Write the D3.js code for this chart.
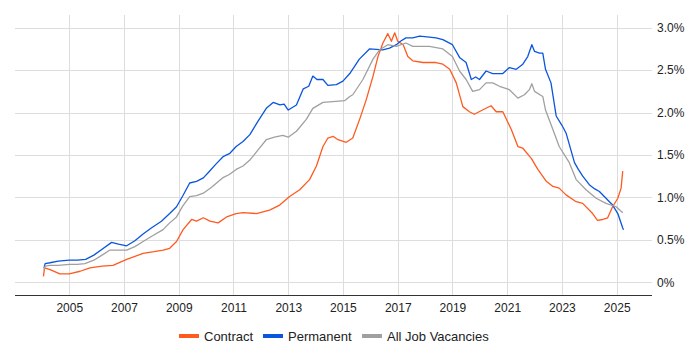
<!DOCTYPE html>
<html>
<head>
<meta charset="utf-8">
<script src="https://cdn.jsdelivr.net/npm/d3@7"></script>
<style>
	body { margin: 0; background: #fff; }
	text { font-family: Arial, "Liberation Sans", sans-serif; }
</style>
</head>
<body>
<div id="chart"></div>
<script>
///////////////////////////////////////////////////////////////////////////
/////////////////////////////// The data //////////////////////////////////
///////////////////////////////////////////////////////////////////////////

	//[decimal year, % of vacancies]
	var contract = [[2004.06,0.07],[2004.1,0.17],[2004.3,0.15],[2004.66,0.10],[2005.0,0.10],[2005.4,0.13],[2005.76,0.17],
		[2006.2,0.19],[2006.6,0.20],[2007.1,0.27],[2007.7,0.34],[2008.1,0.36],[2008.43,0.38],[2008.67,0.40],[2008.92,0.48],
		[2009.16,0.62],[2009.47,0.74],[2009.65,0.72],[2009.9,0.76],[2010.14,0.72],[2010.44,0.70],[2010.75,0.77],[2011.1,0.81],
		[2011.35,0.82],[2011.84,0.81],[2012.32,0.85],[2012.69,0.91],[2013.05,1.01],[2013.42,1.09],[2013.78,1.21],[2014.03,1.37],
		[2014.27,1.60],[2014.45,1.70],[2014.64,1.72],[2014.82,1.68],[2015.12,1.65],[2015.36,1.70],[2015.61,1.92],[2015.85,2.15],
		[2016.1,2.43],[2016.28,2.66],[2016.46,2.82],[2016.64,2.93],[2016.77,2.84],[2016.89,2.94],[2017.0,2.84],[2017.2,2.80],
		[2017.37,2.66],[2017.55,2.61],[2017.92,2.59],[2018.4,2.59],[2018.65,2.57],[2018.9,2.51],[2019.14,2.35],[2019.38,2.07],
		[2019.62,2.01],[2019.8,1.98],[2020.1,2.03],[2020.41,2.08],[2020.6,2.01],[2020.84,2.01],[2021.15,1.80],[2021.39,1.60],
		[2021.57,1.58],[2021.88,1.46],[2022.12,1.33],[2022.43,1.19],[2022.67,1.13],[2022.9,1.11],[2023.15,1.03],[2023.52,0.95],
		[2023.76,0.93],[2024.12,0.81],[2024.3,0.73],[2024.49,0.74],[2024.67,0.76],[2024.85,0.89],[2025.04,0.99],[2025.16,1.11],
		[2025.22,1.31]];

	var permanent = [[2004.08,0.17],[2004.12,0.22],[2004.3,0.23],[2004.6,0.25],[2005.0,0.26],[2005.3,0.26],[2005.6,0.27],
		[2005.9,0.32],[2006.2,0.39],[2006.55,0.47],[2006.8,0.45],[2007.1,0.43],[2007.4,0.49],[2007.7,0.57],[2008.0,0.64],
		[2008.37,0.72],[2008.67,0.81],[2008.92,0.89],[2009.15,1.02],[2009.4,1.17],[2009.65,1.19],[2009.9,1.23],[2010.1,1.30],
		[2010.35,1.39],[2010.62,1.48],[2010.87,1.52],[2011.1,1.60],[2011.35,1.66],[2011.6,1.74],[2011.9,1.90],[2012.2,2.05],
		[2012.45,2.12],[2012.7,2.09],[2012.85,2.10],[2013.0,2.03],[2013.3,2.09],[2013.55,2.28],[2013.75,2.31],[2013.9,2.43],
		[2014.05,2.39],[2014.27,2.39],[2014.45,2.32],[2014.76,2.33],[2015.0,2.37],[2015.25,2.46],[2015.6,2.63],[2015.97,2.75],
		[2016.46,2.74],[2016.7,2.76],[2016.95,2.80],[2017.1,2.84],[2017.3,2.88],[2017.55,2.88],[2017.8,2.90],[2018.16,2.89],
		[2018.4,2.88],[2018.65,2.86],[2019.0,2.80],[2019.26,2.65],[2019.5,2.59],[2019.69,2.39],[2019.85,2.42],[2019.99,2.39],
		[2020.23,2.49],[2020.47,2.46],[2020.84,2.46],[2021.08,2.53],[2021.33,2.51],[2021.57,2.57],[2021.75,2.66],[2021.9,2.80],
		[2022.0,2.72],[2022.18,2.70],[2022.3,2.70],[2022.4,2.51],[2022.6,2.35],[2022.79,1.96],[2023.0,1.85],[2023.15,1.76],
		[2023.46,1.41],[2023.6,1.33],[2023.76,1.25],[2024.0,1.15],[2024.2,1.10],[2024.37,1.07],[2024.61,0.99],[2024.85,0.91],
		[2025.04,0.81],[2025.22,0.64],[2025.25,0.62]];

	var allJobs = [[2004.08,0.15],[2004.12,0.19],[2004.3,0.20],[2004.6,0.20],[2005.0,0.21],[2005.3,0.21],[2005.57,0.22],
		[2005.9,0.26],[2006.2,0.32],[2006.49,0.38],[2006.8,0.38],[2007.1,0.38],[2007.4,0.42],[2007.7,0.48],[2008.0,0.54],
		[2008.43,0.62],[2008.67,0.70],[2008.92,0.77],[2009.15,0.90],[2009.4,1.01],[2009.65,1.02],[2009.9,1.05],[2010.2,1.12],
		[2010.6,1.23],[2010.85,1.27],[2011.1,1.33],[2011.35,1.37],[2011.6,1.44],[2011.9,1.56],[2012.2,1.68],[2012.5,1.71],
		[2012.8,1.73],[2013.0,1.71],[2013.3,1.78],[2013.66,1.92],[2013.9,2.05],[2014.27,2.12],[2014.63,2.13],[2015.06,2.14],
		[2015.25,2.19],[2015.36,2.21],[2015.73,2.39],[2016.1,2.63],[2016.34,2.74],[2016.64,2.80],[2016.95,2.78],[2017.3,2.82],
		[2017.55,2.78],[2018.16,2.78],[2018.65,2.75],[2019.0,2.66],[2019.26,2.49],[2019.5,2.39],[2019.74,2.25],[2019.99,2.27],
		[2020.23,2.35],[2020.47,2.35],[2020.72,2.31],[2021.08,2.27],[2021.39,2.17],[2021.63,2.21],[2021.81,2.27],[2021.9,2.34],
		[2022.0,2.25],[2022.3,2.19],[2022.4,2.03],[2022.67,1.80],[2022.9,1.60],[2023.27,1.41],[2023.52,1.21],[2023.88,1.09],
		[2024.25,0.99],[2024.61,0.93],[2024.98,0.89],[2025.22,0.82]];

	var seriesNames = ["Contract", "Permanent", "All Job Vacancies"],
		seriesColors = ["#FF5A1F", "#0A55DD", "#A0A0A0"];

	var xTickYears = [2005, 2007, 2009, 2011, 2013, 2015, 2017, 2019, 2021, 2023, 2025],
		yTickValues = [0, 0.5, 1, 1.5, 2, 2.5, 3],
		yTickLabels = ["0%", "0.5%", "1.0%", "1.5%", "2.0%", "2.5%", "3.0%"];

///////////////////////////////////////////////////////////////////////////
//////////////////////////// Set up the SVG ///////////////////////////////
///////////////////////////////////////////////////////////////////////////

	var width = 700,
		height = 350,
		plot = {left: 15, right: 652, top: 15, bottom: 295};

	var svg = d3.select("#chart").append("svg")
		.attr("width", width)
		.attr("height", height);

	//Decimal year to a real date
	function toDate(y) {
		var yr = Math.floor(y),
			start = new Date(yr, 0, 1),
			end = new Date(yr + 1, 0, 1);
		return new Date(+start + (y - yr) * (end - start));
	}

	var x = d3.scaleTime()
		.domain([toDate(2003.02), toDate(2026.29)])
		.range([plot.left, plot.right]);

	var y = d3.scaleLinear()
		.domain([-0.15, 3.15])
		.range([plot.bottom, plot.top]);

///////////////////////////////////////////////////////////////////////////
/////////////////////////////// Gridlines /////////////////////////////////
///////////////////////////////////////////////////////////////////////////

	var gridWrapper = svg.append("g").attr("class", "gridWrapper");

	gridWrapper.selectAll(".vGrid")
		.data(xTickYears)
		.enter().append("line")
		.attr("class", "vGrid")
		.attr("x1", function(d) { return Math.round(x(new Date(d, 0, 1))) + 0.5; })
		.attr("x2", function(d) { return Math.round(x(new Date(d, 0, 1))) + 0.5; })
		.attr("y1", plot.top)
		.attr("y2", plot.bottom)
		.style("stroke", "#DDDDDD")
		.style("shape-rendering", "crispEdges");

	gridWrapper.selectAll(".hGrid")
		.data(yTickValues)
		.enter().append("line")
		.attr("class", "hGrid")
		.attr("x1", plot.left)
		.attr("x2", plot.right)
		.attr("y1", function(d) { return Math.round(y(d)) + 0.5; })
		.attr("y2", function(d) { return Math.round(y(d)) + 0.5; })
		.style("stroke", "#DDDDDD")
		.style("shape-rendering", "crispEdges");

	//Bottom axis line
	svg.append("line")
		.attr("x1", plot.left)
		.attr("x2", plot.right)
		.attr("y1", plot.bottom + 0.5)
		.attr("y2", plot.bottom + 0.5)
		.style("stroke", "#333333")
		.style("shape-rendering", "crispEdges");

///////////////////////////////////////////////////////////////////////////
//////////////////////////////// Axes /////////////////////////////////////
///////////////////////////////////////////////////////////////////////////

	var xAxis = d3.axisBottom(x)
		.tickValues(xTickYears.map(function(d) { return new Date(d, 0, 1); }))
		.tickFormat(d3.timeFormat("%Y"))
		.tickSize(0)
		.tickPadding(8);

	svg.append("g")
		.attr("class", "x axis")
		.attr("transform", "translate(0," + plot.bottom + ")")
		.call(xAxis)
		.call(function(g) { g.select(".domain").remove(); })
		.selectAll("text")
		.style("font-size", "12px")
		.attr("fill", "#222222");

	var yAxis = d3.axisRight(y)
		.tickValues(yTickValues)
		.tickFormat(function(d, i) { return yTickLabels[i]; })
		.tickSize(0)
		.tickPadding(5);

	svg.append("g")
		.attr("class", "y axis")
		.attr("transform", "translate(" + plot.right + ",0)")
		.call(yAxis)
		.call(function(g) { g.select(".domain").remove(); })
		.selectAll("text")
		.style("font-size", "12px")
		.attr("fill", "#222222");

///////////////////////////////////////////////////////////////////////////
//////////////////////////////// Lines ////////////////////////////////////
///////////////////////////////////////////////////////////////////////////

	var line = d3.line()
		.x(function(d) { return x(toDate(d[0])); })
		.y(function(d) { return y(d[1]); });

	var lineWrapper = svg.append("g").attr("class", "lineWrapper");

	[contract, permanent, allJobs].forEach(function(data, i) {
		lineWrapper.append("path")
			.datum(data)
			.attr("d", line)
			.style("fill", "none")
			.style("stroke", seriesColors[i])
			.style("stroke-width", 1.3)
			.style("stroke-linejoin", "round");
	});

///////////////////////////////////////////////////////////////////////////
//////////////////////////////// Legend ///////////////////////////////////
///////////////////////////////////////////////////////////////////////////

	var legendX = [179, 263, 362];

	var legend = svg.append("g").attr("class", "legendWrapper")
		.selectAll(".legend")
		.data(seriesNames)
		.enter().append("g")
		.attr("class", "legend")
		.attr("transform", function(d, i) { return "translate(" + legendX[i] + ",336)"; });

	legend.append("line")
		.attr("x1", 0)
		.attr("x2", 20)
		.style("stroke", function(d, i) { return seriesColors[i]; })
		.style("stroke-width", 4);

	legend.append("text")
		.attr("x", 25)
		.attr("dy", ".35em")
		.style("font-size", "13px")
		.attr("fill", "#222222")
		.text(function(d) { return d; });
</script>
</body>
</html>
